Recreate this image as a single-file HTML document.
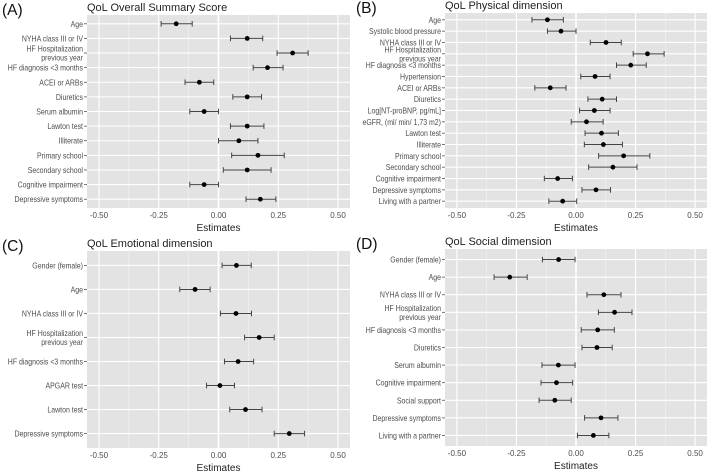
<!DOCTYPE html>
<html><head><meta charset="utf-8"><style>
html,body{margin:0;padding:0;background:#fff;}
svg{display:block;font-family:"Liberation Sans",Arial,sans-serif;}
</style></head><body>
<svg id="fig" width="709" height="472" viewBox="0 0 709 472"></svg>
<script>
// Panel A
const labelsA = ["Age","NYHA class III or IV","HF Hospitalization\nprevious year","HF diagnosis <3 months","ACEI or ARBs","Diuretics","Serum albumin","Lawton test","Illiterate","Primary school","Secondary school","Cognitive impairment","Depressive symptoms"];
const estA = [-0.177,0.12,0.31,0.205,-0.08,0.12,-0.06,0.12,0.085,0.165,0.12,-0.06,0.175];
const loA  = [-0.24,0.05,0.245,0.145,-0.14,0.06,-0.12,0.05,0.0,0.055,0.02,-0.12,0.115];
const hiA  = [-0.11,0.185,0.375,0.27,-0.02,0.18,0.0,0.19,0.165,0.275,0.22,0.0,0.24];
// Panel B
const labelsB = ["Age","Systolic blood pressure","NYHA class III or IV","HF Hospitalization\nprevious year","HF diagnosis <3 months","Hypertension","ACEI or ARBs","Diuretics","Log[NT-proBNP, pg/mL]","eGFR, (ml/ min/ 1,73 m2)","Lawton test","Illiterate","Primary school","Secondary school","Cognitive impairment","Depressive symptoms","Living with a partner"];
const estB = [-0.12,-0.063,0.126,0.3,0.23,0.08,-0.108,0.11,0.077,0.044,0.107,0.115,0.2,0.155,-0.077,0.084,-0.056];
const loB  = [-0.185,-0.12,0.06,0.24,0.17,0.02,-0.173,0.05,0.015,-0.02,0.038,0.035,0.095,0.053,-0.133,0.025,-0.114];
const hiB  = [-0.053,0.0,0.19,0.37,0.295,0.143,-0.042,0.17,0.143,0.114,0.178,0.195,0.31,0.256,-0.015,0.145,0.003];
// Panel C
const labelsC = ["Gender (female)","Age","NYHA class III or IV","HF Hospitalization\nprevious year","HF diagnosis <3 months","APGAR test","Lawton test","Depressive symptoms"];
const estC = [0.075,-0.098,0.073,0.17,0.082,0.006,0.113,0.296];
const loC  = [0.015,-0.162,0.008,0.109,0.025,-0.05,0.047,0.233];
const hiC  = [0.137,-0.035,0.138,0.233,0.147,0.067,0.182,0.36];
// Panel D
const labelsD = ["Gender (female)","Age","NYHA class III or IV","HF Hospitalization\nprevious year","HF diagnosis <3 months","Diuretics","Serum albumin","Cognitive impairment","Social support","Depressive symptoms","Living with a partner"];
const estD = [-0.073,-0.278,0.117,0.162,0.091,0.088,-0.074,-0.082,-0.089,0.105,0.073];
const loD  = [-0.141,-0.344,0.046,0.094,0.022,0.025,-0.143,-0.147,-0.155,0.036,0.006];
const hiD  = [-0.004,-0.205,0.189,0.235,0.161,0.152,-0.004,-0.014,-0.02,0.176,0.138];
const xTicks = [-0.5,-0.25,0,0.25,0.5];
const xTickLabels = ["-0.50","-0.25","0.00","0.25","0.50"];
const xMinor = [-0.375,-0.125,0.125,0.375];

const NS="http://www.w3.org/2000/svg";
const svg=document.getElementById('fig');
function mk(tag,attrs,parent){const e=document.createElementNS(NS,tag);for(const k in attrs)e.setAttribute(k,attrs[k]);(parent||svg).appendChild(e);return e;}

function panel(id,letter,title,box,labels,est,lo,hi){
  const g=mk('g',{});
  
  
  const {x0,x1,y0,y1}=box;
  const xs=v=>x0+(v+0.55)/1.1*(x1-x0);
  const n=labels.length;
  const ys=i=>y0+(i+1-0.4)/(n+0.2)*(y1-y0);
  const bg=mk('rect',{x:x0,y:y0,width:x1-x0,height:y1-y0,fill:'#e3e3e3'},g);
  
  
  xMinor.forEach(v=>{const l=mk('line',{x1:xs(v),x2:xs(v),y1:y0,y2:y1,stroke:'#f2f2f2','stroke-width':0.6},g);
    
    });
  xTicks.forEach((v,i)=>{const l=mk('line',{x1:xs(v),x2:xs(v),y1:y0,y2:y1,stroke:'#fff','stroke-width':v===0?1.6:1.1},g);
    
    
    const t=mk('text',{x:xs(v),y:y1+10,'font-size':8,fill:'#4d4d4d','text-anchor':'middle'},g);t.textContent=xTickLabels[i];
    
    });
  labels.forEach((lab,i)=>{
    const y=ys(i);
    const gl=mk('line',{x1:x0,x2:x1,y1:y,y2:y,stroke:'#fff','stroke-width':1.1},g);
    
    
    mk('line',{x1:x0-3,x2:x0,y1:y,y2:y,stroke:'#555','stroke-width':0.8},g);
    const lines=lab.split('\n');
    const t=mk('text',{x:x0-4,y:y+3-(lines.length-1)*4.5,'font-size':8.2,fill:'#4d4d4d','text-anchor':'end'},g);
    
    
    lines.forEach((s,k)=>{const ts=mk('tspan',{x:x0-4,dy:k?9:0},t);ts.textContent=s;
      const w=ts.getComputedTextLength();
      if(w>0){ts.setAttribute('textLength',(w*0.85).toFixed(1));ts.setAttribute('lengthAdjust','spacingAndGlyphs');}});
    const eb=mk('g',{stroke:'#444','stroke-width':1},g);
    
    
    mk('line',{x1:xs(lo[i]),x2:xs(hi[i]),y1:y,y2:y},eb);
    mk('line',{x1:xs(lo[i]),x2:xs(lo[i]),y1:y-2.8,y2:y+2.8},eb);
    mk('line',{x1:xs(hi[i]),x2:xs(hi[i]),y1:y-2.8,y2:y+2.8},eb);
    const p=mk('circle',{cx:xs(est[i]),cy:y,r:2.4,fill:'#000'},g);
    
    
  });
  const tt=mk('text',{x:x0,y:y0-4,'font-size':11,fill:'#222'},g);tt.textContent=title;
  
  
  const lt=mk('text',{x:box.lx,y:y0+0,'font-size':15.5,fill:'#111'},g);lt.textContent=letter;
  
  
  const xt=mk('text',{x:(x0+x1)/2,y:y1+23,'font-size':10,fill:'#222','text-anchor':'middle'},g);xt.textContent='Estimates';
  
  
}
panel('a','(A)','QoL Overall Summary Score',{x0:87,x1:350,y0:15,y1:208,lx:2},labelsA,estA,loA,hiA);
panel('b','(B)','QoL Physical dimension',{x0:445,x1:707,y0:13,y1:208,lx:356},labelsB,estB,loB,hiB);
panel('c','(C)','QoL Emotional dimension',{x0:87,x1:350,y0:251,y1:448,lx:2},labelsC,estC,loC,hiC);
panel('d','(D)','QoL Social dimension',{x0:445,x1:707,y0:249,y1:446,lx:356},labelsD,estD,loD,hiD);
</script>
</body></html>
